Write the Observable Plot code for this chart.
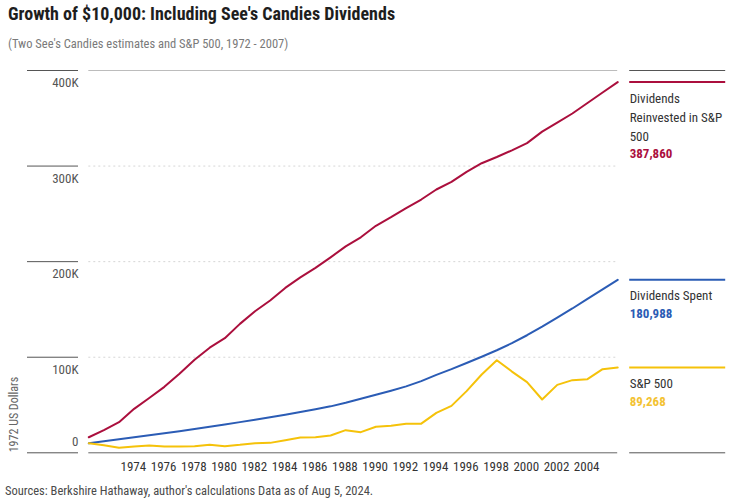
<!DOCTYPE html>
<html><head><meta charset="utf-8">
<script src="https://cdn.jsdelivr.net/npm/d3@7"></script>
<script src="https://cdn.jsdelivr.net/npm/@observablehq/plot@0.6"></script>
<style>
body{margin:0;background:#fff;width:733px;height:503px;overflow:hidden;position:relative;font-family:"Roboto Condensed","Liberation Sans Narrow","DejaVu Sans Condensed",Roboto,sans-serif;font-stretch:condensed;}
#title{position:absolute;left:8px;top:3px;font-size:18px;font-weight:700;color:#1e1e1e;white-space:nowrap;}
#subtitle{position:absolute;left:8px;top:36px;font-size:12.5px;color:#7a7a7a;white-space:nowrap;}
#chart{position:absolute;left:0;top:55px;}
#caption{position:absolute;left:5px;top:483px;font-size:12.5px;color:#4a4a4a;white-space:nowrap;}
</style></head>
<body>
<div id="title">Growth of $10,000: Including See's Candies Dividends</div>
<div id="subtitle">(Two See's Candies estimates and S&amp;P 500, 1972 - 2007)</div>
<div id="chart"></div>
<div id="caption">Sources: Berkshire Hathaway, author's calculations Data as of Aug 5, 2024.</div>
<script>
const years = d3.range(1972, 2008);
const seriesNames = ["Dividends Reinvested in S&P 500", "Dividends Spent", "S&P 500"];
const legendLabels = ["Dividends\nReinvested in S&P\n500", "Dividends Spent", "S&P 500"];
const seriesColors = ["#ab0f3d", "#2b5cb5", "#f5c20a"];
const valueColors = ["#ab0f3d", "#2b5cb5", "#f3c232"];
const reinvested = [16300, 23700, 32000, 46000, 57300, 69000, 82600, 97400, 110000, 119900,
  134900, 148100, 159300, 172500, 183500, 193500, 204500, 216000, 225500, 237500,
  246500, 256000, 265000, 275500, 283500, 294000, 303000, 309500, 316500, 324000,
  336000, 345500, 355000, 366000, 377000, 387860];
const spent = [10000, 12200, 14200, 16300, 18300, 20400, 22600, 24900, 27200, 29600,
  32100, 34600, 37200, 39800, 42600, 45500, 48600, 52300, 56500, 60800,
  65000, 69500, 75000, 81500, 87500, 94000, 100500, 107300, 114700, 123000,
  132000, 141500, 151000, 161000, 171000, 180988];
const sp500 = [10000, 8000, 5200, 6600, 7600, 6600, 6600, 6900, 8300, 6900,
  8300, 10100, 10400, 13200, 16000, 16300, 18100, 23700, 21600, 27200,
  28200, 30400, 30500, 41800, 49100, 64500, 81900, 96900, 85000, 73900,
  55800, 71100, 76000, 77000, 87500, 89268];
const yTicks = [0, 100000, 200000, 300000, 400000];
const xTicks = d3.range(1974, 2005, 2);
const yLabel = "1972 US Dollars";

const allSeries = [reinvested, spent, sp500];
const table = allSeries.flatMap((vals, si) => vals.map((v, i) => ({year: years[i], value: v, series: seriesNames[si]})));
const font = "'Roboto Condensed','Liberation Sans Narrow','DejaVu Sans Condensed',Roboto,sans-serif";

const legendMarks = allSeries.flatMap((vals, si) => {
  const last = vals[vals.length - 1];
  const nLines = legendLabels[si].split("\n").length;
  return [
    Plot.ruleY([last], {x1: 2007, x2: 2007, insetLeft: 12, insetRight: -108, stroke: seriesColors[si], strokeWidth: 2}),
    Plot.text([last], {x: () => 2007, y: d => d, text: () => legendLabels[si], dx: 12, dy: 7, lineAnchor: "top", textAnchor: "start", lineHeight: 19 / 13, fontSize: 13, fill: "#333"}),
    Plot.text([last], {x: () => 2007, y: d => d, text: d => d3.format(",")(d), dx: 12, dy: 10 + 19 * nLines, lineAnchor: "top", textAnchor: "start", fontSize: 13, fontWeight: "bold", fill: valueColors[si]})
  ];
});

const chart = Plot.plot({
  width: 733, height: 430,
  marginLeft: 78, marginRight: 8, marginTop: 15, marginBottom: 32.7,
  style: {fontFamily: font, fontSize: "13px", fontStretch: "condensed", background: "#fff"},
  x: {domain: [1972, 2007], range: [88.3, 617.2]},
  y: {domain: [0, 400000], range: [397.3, 15]},
  color: {domain: seriesNames, range: seriesColors},
  marks: [
    Plot.ruleY(yTicks.filter(d => d > 0 && d < 400000), {x1: 1972, x2: 2007, stroke: "#d6d6d6", strokeDasharray: "2,3"}),
    Plot.ruleY([400000], {x1: 1972, x2: 2007, stroke: "#bcbcbc"}),
    Plot.ruleY([400000, 0], {x1: 2007, x2: 2007, insetLeft: 12, insetRight: -108, stroke: "#555"}),
    Plot.axisY({ticks: yTicks, tickSize: 51, tickFormat: () => "", stroke: "#555", label: null}),
    Plot.axisY({ticks: yTicks.filter(d => d > 0), tickSize: 0, tickPadding: 0, dy: 12.5, textAnchor: "end", tickFormat: d => d / 1000 + "K", fill: "#555", label: null}),
    Plot.axisY({ticks: [0], tickSize: 0, tickPadding: 0, dy: -11, textAnchor: "end", tickFormat: d => "0", fill: "#555", label: null}),
    Plot.text([yLabel], {frameAnchor: "bottom-left", text: d => d, rotate: -90, textAnchor: "start", lineAnchor: "middle", dx: -64.5, dy: -0.5, fill: "#666", fontSize: 12}),
    Plot.ruleY([0], {x1: 1972, x2: 2007, stroke: "#666"}),
    Plot.axisX({ticks: xTicks, tickSize: 0, tickPadding: 9.4, textAnchor: "start", dx: 1.5, tickFormat: d => String(d), fill: "#333", label: null}),
    Plot.line(table, {x: "year", y: "value", z: "series", stroke: "series", strokeWidth: 2}),
    ...legendMarks
  ]
});
document.getElementById("chart").appendChild(chart);
</script>
</body></html>
